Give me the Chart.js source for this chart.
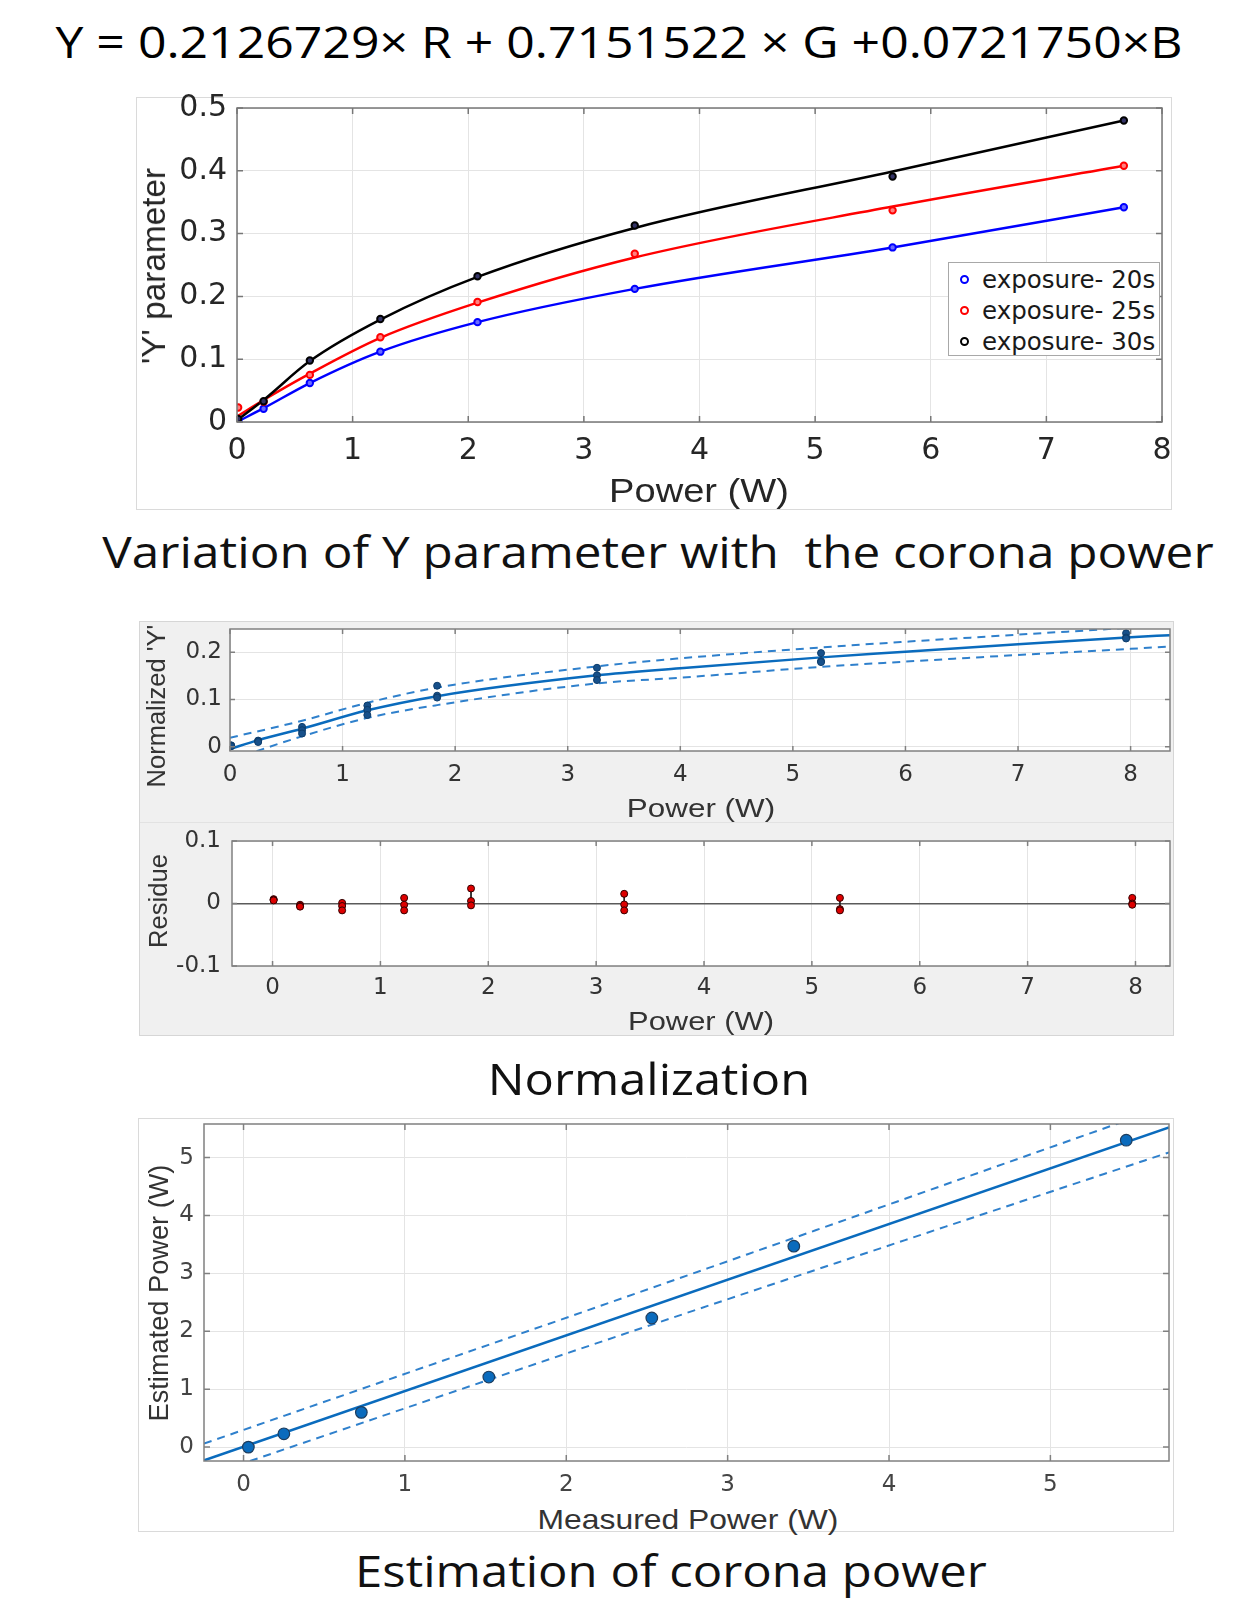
<!DOCTYPE html>
<html>
<head>
<meta charset="utf-8">
<title>Y parameter vs corona power</title>
<script src="https://cdn.jsdelivr.net/npm/chart.js@4.4.1/dist/chart.umd.min.js"></script>
<style>
  html, body { margin: 0; padding: 0; background: #fff; }
  body { position: relative; width: 1258px; height: 1599px; overflow: hidden; }
  canvas { position: absolute; z-index: 1; }
  .panel { position: absolute; box-sizing: border-box; }
  .txt { position: absolute; white-space: nowrap; z-index: 2; line-height: 1; transform-origin: center center; }
  #legend { position: absolute; z-index: 3; left: 948px; top: 262px; width: 212px; height: 94px; box-sizing: border-box;
            border: 1px solid #a8a8a8; background: #fff; font-family: "DejaVu Sans"; font-size: 24.5px; color: #1a1a1a; }
  .item { position: absolute; left: 0; height: 30px; display: flex; align-items: center; }
  .dot { width: 5px; height: 5px; border: 2px solid; border-radius: 50%; margin-left: 11px; margin-right: 13px; }
</style>
</head>
<body>
<div class="panel" style="left:136px;top:97px;width:1036px;height:413px;border:1px solid #dadada"></div>
<div class="panel" style="left:139px;top:621px;width:1035px;height:415px;background:#f0f0f0;border:1px solid #d6d6d6"></div>
<div class="panel" style="left:140px;top:822px;width:1033px;height:1px;background:#e2e2e2"></div>
<div class="panel" style="left:138px;top:1118px;width:1036px;height:414px;border:1px solid #dadada"></div>

<canvas id="cTop"></canvas>
<canvas id="cNorm"></canvas>
<canvas id="cRes"></canvas>
<canvas id="cEst"></canvas>
<div id="legend"></div>

<script>
// --- Y parameter vs power, three exposure times ---
const topX = [0.01, 0.23, 0.63, 1.24, 2.08, 3.44, 5.67, 7.67];
const y20s = [0.002, 0.021, 0.062, 0.112, 0.159, 0.212, 0.278, 0.342];
const y25s = [0.023, 0.032, 0.075, 0.135, 0.191, 0.268, 0.337, 0.408];
const y30s = [0.005, 0.033, 0.098, 0.164, 0.232, 0.313, 0.391, 0.480];
// fitted curves, read at the same powers
const fit20s = [0.001, 0.022, 0.062, 0.112, 0.159, 0.212, 0.278, 0.342];
const fit25s = [0.010, 0.035, 0.077, 0.134, 0.190, 0.262, 0.343, 0.408];
const fit30s = [0.004, 0.035, 0.097, 0.163, 0.231, 0.309, 0.399, 0.480];
const seriesLabels = ['exposure- 20s', 'exposure- 25s', 'exposure- 30s'];
const topXTicks = [0, 1, 2, 3, 4, 5, 6, 7, 8];
const topYTicks = [0, 0.1, 0.2, 0.3, 0.4, 0.5];

// --- normalized Y with fit and prediction bounds ---
const normX = [0.01, 0.25, 0.64, 1.22, 1.84, 3.26, 5.25, 7.96];
const normA = [0.003, 0.013, 0.042, 0.087, 0.129, 0.167, 0.198, 0.240];
const normB = [0.002, 0.012, 0.035, 0.078, 0.108, 0.151, 0.181, 0.231];
const normC = [0.001, 0.010, 0.028, 0.067, 0.104, 0.141, 0.179, 0.229];
const normFitX = [0, 0.25, 0.64, 1.22, 1.84, 3.26, 4, 5.25, 6, 7, 8, 8.35];
const normFitY = [-0.005, 0.014, 0.038, 0.077, 0.107, 0.151, 0.166, 0.189, 0.201, 0.217, 0.2315, 0.236];
const normUpX = [0, 0.64, 1.22, 1.84, 3.26, 4, 5.25, 6, 7, 8, 8.35];
const normUpY = [0.019, 0.055, 0.093, 0.125, 0.170, 0.187, 0.210, 0.222, 0.237, 0.252, 0.258];
const normLoX = [0, 0.64, 1.22, 1.84, 3.26, 4, 5.25, 6, 7, 8, 8.35];
const normLoY = [-0.028, 0.022, 0.061, 0.088, 0.134, 0.146, 0.169, 0.180, 0.194, 0.207, 0.212];
const normXTicks = [0, 1, 2, 3, 4, 5, 6, 7, 8];
const normYTicks = [0, 0.1, 0.2];

// --- residuals of the fit ---
const resX = [0.01, 0.255, 0.645, 1.22, 1.84, 3.26, 5.26, 7.97];
const resA = [0.007, -0.002, 0.001, 0.009, 0.024, 0.0155, 0.009, 0.009];
const resB = [0.006, -0.004, -0.004, -0.002, 0.004, -0.0015, -0.009, 0.000];
const resC = [0.005, -0.005, -0.011, -0.011, -0.003, -0.011, -0.011, -0.002];
const resXTicks = [0, 1, 2, 3, 4, 5, 6, 7, 8];
const resYTicks = [-0.1, 0, 0.1];

// --- estimated vs measured power ---
const measuredW = [0.03, 0.25, 0.73, 1.52, 2.53, 3.41, 5.47];
const estimatedW = [0.00, 0.23, 0.60, 1.21, 2.23, 3.47, 5.30];
const estFitX = [-0.245, 5.735];
const estFitY = [-0.23, 5.52];
const estUpX = [-0.245, 2.52, 5.40, 5.735];
const estUpY = [0.06, 2.74, 5.57, 5.90];
const estLoX = [0.04, 2.52, 5.735];
const estLoY = [-0.24, 2.105, 5.09];
const estXTicks = [0, 1, 2, 3, 4, 5];
const estYTicks = [0, 1, 2, 3, 4, 5];

const expColors = ['#0000ff', '#ff0000', '#000000'];
const expFills = ['#6a6aff', '#ff8080', '#333366'];
const fitBlue = '#0a6bbd';
const bandBlue = '#2f80cc';

const pts = (xs, ys) => xs.map((x, i) => ({ x, y: ys[i] }));

// white plot background, box outline and inward tick marks
const frame = {
  id: 'frame',
  beforeDraw(chart) {
    const a = chart.chartArea, ctx = chart.ctx;
    ctx.save();
    ctx.fillStyle = '#fff';
    ctx.fillRect(a.left, a.top, a.right - a.left, a.bottom - a.top);
    ctx.restore();
  },
  afterDatasetsDraw(chart, args, opts) {
    const a = chart.chartArea, ctx = chart.ctx, sx = chart.scales.x, sy = chart.scales.y;
    const tl = opts.tick || 6;
    ctx.save();
    ctx.strokeStyle = opts.color || '#707070';
    ctx.lineWidth = opts.width || 1.5;
    ctx.strokeRect(a.left, a.top, a.right - a.left, a.bottom - a.top);
    ctx.beginPath();
    sx.ticks.forEach(t => {
      const p = sx.getPixelForValue(t.value);
      ctx.moveTo(p, a.bottom); ctx.lineTo(p, a.bottom - tl);
      ctx.moveTo(p, a.top); ctx.lineTo(p, a.top + tl);
    });
    sy.ticks.forEach(t => {
      const p = sy.getPixelForValue(t.value);
      ctx.moveTo(a.left, p); ctx.lineTo(a.left + tl, p);
      ctx.moveTo(a.right, p); ctx.lineTo(a.right - tl, p);
    });
    ctx.stroke();
    ctx.restore();
  }
};

function linAxis(min, max, ticks, size, pad, color) {
  return {
    type: 'linear', min, max,
    afterBuildTicks: s => { s.ticks = ticks.map(v => ({ value: v })); },
    grid: { color: '#e4e4e4', drawTicks: false, lineWidth: 1 },
    border: { display: false },
    ticks: { padding: pad, color, autoSkip: false, maxRotation: 0,
             font: { family: 'DejaVu Sans', size }, callback: v => String(v) }
  };
}

const PAD = 30;
function build(id, area, axW, axH, cfg) {
  const cv = document.getElementById(id);
  const w = area.r - area.l + axW + PAD, h = area.b - area.t + PAD + axH;
  cv.width = w; cv.height = h;
  Object.assign(cv.style, { left: (area.l - axW) + 'px', top: (area.t - PAD) + 'px', width: w + 'px', height: h + 'px' });
  cfg.options.responsive = false;
  cfg.options.animation = false;
  cfg.options.layout = { padding: { top: PAD, right: PAD, left: 0, bottom: 0 } };
  cfg.options.scales.x.afterFit = s => { s.height = axH; };
  cfg.options.scales.y.afterFit = s => { s.width = axW; };
  cfg.options.plugins = Object.assign({ legend: { display: false }, tooltip: { enabled: false } }, cfg.options.plugins);
  cfg.plugins = [frame];
  return new Chart(cv, cfg);
}

function lineSet(xs, ys, color, width, dash) {
  return { data: pts(xs, ys), borderColor: color, borderWidth: width, borderDash: dash || [],
           pointRadius: 0, cubicInterpolationMode: 'monotone', fill: false };
}
function dotSet(xs, ys, fill, edge, r, bw) {
  return { data: pts(xs, ys), showLine: false, pointRadius: r, pointBackgroundColor: fill,
           pointBorderColor: edge, pointBorderWidth: bw };
}

function draw() {
  // top: Y parameter vs power, fitted curve plus measured points per exposure
  const topSets = [];
  [fit20s, fit25s, fit30s].forEach((ys, i) => {
    topSets.push(Object.assign(lineSet(topX, ys, expColors[i], 2.5), { order: 6 - i }));
  });
  [y20s, y25s, y30s].forEach((ys, i) => {
    topSets.push(Object.assign(dotSet(topX, ys, expFills[i], expColors[i], 3.2, 2), { label: seriesLabels[i], order: 3 - i }));
  });
  build('cTop', { l: 237, t: 108, r: 1162, b: 422 }, 100, 60, {
    type: 'line',
    data: { datasets: topSets },
    options: {
      scales: {
        x: linAxis(0, 8, topXTicks, 30, 11, '#262626'),
        y: linAxis(0, 0.5, topYTicks, 30, 10, '#262626')
      },
      plugins: { frame: { color: '#777', width: 1.5, tick: 6 } }
    }
  });

  // middle: normalized Y with fit
  build('cNorm', { l: 230, t: 629, r: 1170, b: 751 }, 80, 40, {
    type: 'line',
    data: {
      datasets: [
        lineSet(normUpX, normUpY, bandBlue, 2, [8, 6]),
        lineSet(normLoX, normLoY, bandBlue, 2, [8, 6]),
        lineSet(normFitX, normFitY, fitBlue, 2.5),
        dotSet(normX, normA, '#17508a', '#0e3d6b', 3.5, 1),
        dotSet(normX, normB, '#17508a', '#0e3d6b', 3.5, 1),
        dotSet(normX, normC, '#17508a', '#0e3d6b', 3.5, 1)
      ].map((d, i) => Object.assign(d, { order: 6 - i }))
    },
    options: {
      scales: {
        x: linAxis(0, 8.35, normXTicks, 23, 10, '#333'),
        y: linAxis(-0.009, 0.249, normYTicks, 23, 8, '#333')
      },
      plugins: { frame: { color: '#808080', width: 1.5, tick: 5 } }
    }
  });

  // residual stems join the three residuals at each power
  const stems = [];
  resX.forEach((x, i) => {
    const v = [resA[i], resB[i], resC[i]];
    stems.push({ x, y: Math.max(...v) }, { x, y: Math.min(...v) }, { x, y: null });
  });
  const resAxis = linAxis(-0.1, 0.1, resYTicks, 23, 11, '#333');
  resAxis.grid.color = c => (c.tick && c.tick.value === 0 ? '#5a5a5a' : '#e4e4e4');
  resAxis.grid.lineWidth = c => (c.tick && c.tick.value === 0 ? 1.5 : 1);
  build('cRes', { l: 232, t: 841, r: 1170, b: 966 }, 80, 40, {
    type: 'line',
    data: {
      datasets: [
        { data: stems, borderColor: '#222', borderWidth: 1, pointRadius: 0, spanGaps: false, order: 4 },
        Object.assign(dotSet(resX, resA, '#dd0000', '#330000', 3.5, 1), { order: 3 }),
        Object.assign(dotSet(resX, resB, '#dd0000', '#330000', 3.5, 1), { order: 2 }),
        Object.assign(dotSet(resX, resC, '#dd0000', '#330000', 3.5, 1), { order: 1 })
      ]
    },
    options: {
      scales: {
        x: linAxis(-0.376, 8.32, resXTicks, 23, 8, '#333'),
        y: resAxis
      },
      plugins: { frame: { color: '#808080', width: 1.5, tick: 5 } }
    }
  });

  // bottom: estimated vs measured power
  build('cEst', { l: 204, t: 1124, r: 1169, b: 1461 }, 70, 40, {
    type: 'line',
    data: {
      datasets: [
        Object.assign(lineSet(estUpX, estUpY, bandBlue, 2, [8, 6]), { order: 4 }),
        Object.assign(lineSet(estLoX, estLoY, bandBlue, 2, [8, 6]), { order: 3 }),
        Object.assign(lineSet(estFitX, estFitY, fitBlue, 2.5), { order: 2 }),
        Object.assign(dotSet(measuredW, estimatedW, '#0a6bbd', '#1d3d5e', 5.8, 1.2), { order: 1 })
      ]
    },
    options: {
      scales: {
        x: linAxis(-0.245, 5.735, estXTicks, 23, 10.5, '#444'),
        y: linAxis(-0.24, 5.58, estYTicks, 23, 10, '#444')
      },
      plugins: { frame: { color: '#808080', width: 1.5, tick: 6 } }
    }
  });
}

// legend for the top chart
const legend = document.getElementById('legend');
seriesLabels.forEach((name, i) => {
  const row = document.createElement('div');
  row.className = 'item';
  row.style.top = (1 + i * 31) + 'px';
  const dot = document.createElement('span');
  dot.className = 'dot';
  dot.style.borderColor = expColors[i];
  const t = document.createElement('span');
  t.textContent = name;
  row.append(dot, t);
  legend.appendChild(row);
});

// captions and axis titles: centre point, stretched to a given length
const texts = [
  { s: 'Y = 0.2126729× R + 0.7151522 × G +0.0721750×B', x: 619, y: 41, w: 1127, f: '44px "Open Sans"', c: '#000' },
  { s: 'Variation of Y parameter with\u00a0 the corona power', x: 657.5, y: 551, w: 1111, f: '44px "Open Sans"', c: '#111' },
  { s: 'Normalization', x: 649, y: 1078, w: 322, f: '44px "Open Sans"', c: '#111' },
  { s: 'Estimation of corona power', x: 671, y: 1570, w: 632, f: '44px "Open Sans"', c: '#111' },
  { s: "'Y' parameter", x: 153.5, y: 266, w: 196, f: '33px "Liberation Sans"', c: '#262626', rot: true },
  { s: 'Power (W)', x: 699, y: 491, w: 180, f: '33px "Liberation Sans"', c: '#262626' },
  { s: "Normalized 'Y'", x: 155.5, y: 705.5, w: 163, f: '25.7px "Liberation Sans"', c: '#333', rot: true },
  { s: 'Power (W)', x: 700.5, y: 807.5, w: 148, f: '25.7px "Liberation Sans"', c: '#333' },
  { s: 'Residue', x: 158, y: 901, w: 94, f: '25.6px "Liberation Sans"', c: '#333', rot: true },
  { s: 'Power (W)', x: 700.5, y: 1020.5, w: 146, f: '25.6px "Liberation Sans"', c: '#333' },
  { s: 'Estimated Power (W)', x: 159, y: 1293, w: 257, f: '27.2px "Liberation Sans"', c: '#333', rot: true },
  { s: 'Measured Power (W)', x: 687.5, y: 1520, w: 301, f: '27.2px "Liberation Sans"', c: '#333' }
];

function placeTexts() {
  texts.forEach(d => {
    const el = document.createElement('div');
    el.className = 'txt';
    el.textContent = d.s;
    el.style.font = d.f;
    el.style.color = d.c;
    el.style.left = d.x + 'px';
    el.style.top = d.y + 'px';
    document.body.appendChild(el);
    const k = d.w / el.offsetWidth;
    el.style.transform = 'translate(-50%, -50%)' + (d.rot ? ' rotate(-90deg)' : '') + ' scaleX(' + k + ')';
  });
}

document.fonts.ready.then(() => { placeTexts(); draw(); });
</script>
</body>
</html>
